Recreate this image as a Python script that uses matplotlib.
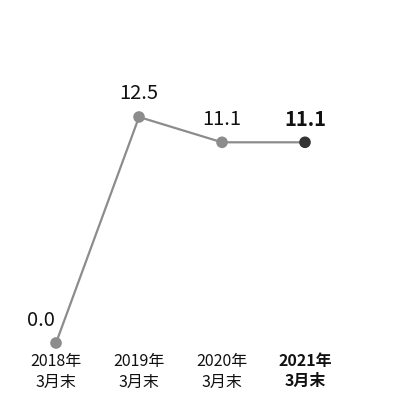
import matplotlib.pyplot as plt

plt.rcParams['font.family'] = ['Noto Sans CJK JP', 'DejaVu Sans']

# data
periods = ['2018年\n3月末', '2019年\n3月末', '2020年\n3月末', '2021年\n3月末']
values = [0.0, 12.5, 11.1, 11.1]

fig = plt.figure(figsize=(4.08, 3.93), dpi=100)
ax = fig.add_axes([0, 0, 1, 1])
ax.set_xlim(-0.675, 4.241)
ax.set_ylim(-2.765, 18.97)
ax.axis('off')

x = list(range(len(values)))
ax.plot(x, values, color='#8c8c8c', lw=1.6, zorder=1)
colors = ['#8c8c8c'] * (len(values) - 1) + ['#333333']
ax.scatter(x, values, s=70, c=colors, zorder=2, linewidths=0)

last = len(values) - 1
for i, v in enumerate(values):
    w = 'bold' if i == last else 'normal'
    dx = -0.18 if i == 0 else 0
    ax.annotate(f'{v:.1f}', (i, v), xytext=(dx * 60, 9), textcoords='offset points',
                ha='center', va='bottom', fontsize=14.5, fontweight=w, color='#111111')
    ax.annotate(periods[i], (i, 0), xytext=(0, -7.5), textcoords='offset points',
                ha='center', va='top', fontsize=11.5, fontweight=w, color='#111111',
                linespacing=1.3)

fig.savefig('out.png', dpi=100)
